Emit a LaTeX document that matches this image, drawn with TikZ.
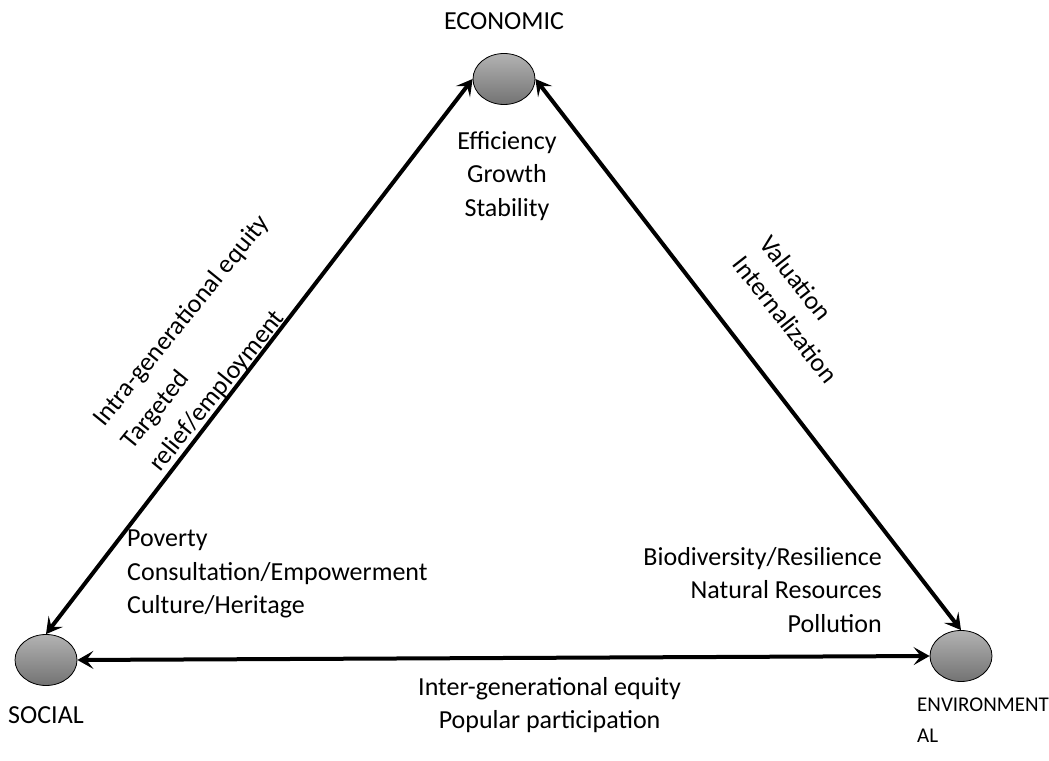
\documentclass[tikz,border=0pt]{standalone}
\usepackage{fontspec}
\setmainfont{Carlito}
\usetikzlibrary{arrows.meta,shapes.geometric,positioning}

\begin{document}
\begin{tikzpicture}[x=1pt,y=1pt,
  pole/.style={ellipse,draw=black,line width=.8pt,top color=black!30,bottom color=black!55,minimum width=62pt,minimum height=51pt,inner sep=0pt},
  txt/.style={inner sep=0pt,font=\fontsize{26}{33.5}\selectfont},
  link/.style={{Stealth[length=16pt,width=18pt,inset=7pt]}-{Stealth[length=16pt,width=18pt,inset=7pt]},line width=4pt}]
  \useasboundingbox (0,0) rectangle (1049,760);
  \node[pole,label={[txt,label distance=23pt]above:ECONOMIC}] (eco) at (504,681) {};
  \node[pole,label={[txt,label distance=21pt]below:SOCIAL}] (soc) at (46,100) {};
  \node[pole] (env) at (961,104) {};
  \node[txt,font=\fontsize{21}{31}\selectfont,align=left,anchor=north west] (envname) at (917,62) {ENVIRONMENT\\AL};

  \node[txt,align=center] (ecotxt) at (507,584) {Efficiency\\Growth\\Stability};
  \node[txt,align=left,anchor=west] (soctxt) at (127,186) {Poverty\\Consultation/Empowerment\\Culture/Heritage};
  \node[txt,align=right,anchor=east] (envtxt) at (882,170) {Biodiversity/Resilience\\Natural Resources\\Pollution};

  \node[txt,font=\fontsize{26}{36}\selectfont,align=left,anchor=west,rotate=51] (selab) at (127,314) {Intra-generational equity\\Targeted\\relief/employment};
  \node[txt,align=left,anchor=west,rotate=-52] (eelab) at (752,511) {Valuation\\Internalization};
  \node[txt,align=center,anchor=west] (sslab) at (418,55) {Inter-generational equity\\Popular participation};

  \draw[link] (soc.north) -- (eco.west);
  \draw[link] (eco.east) -- (env.north);
  \draw[link] (soc.east) -- (env.west);
\end{tikzpicture}
\end{document}
